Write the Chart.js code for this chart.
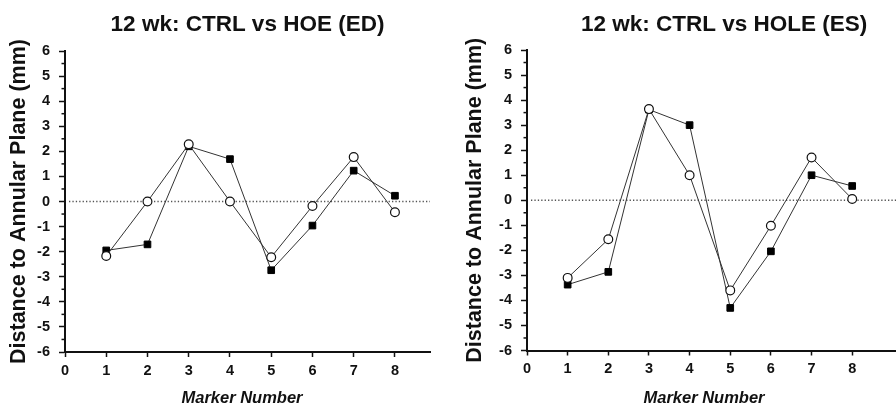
<!DOCTYPE html>
<html>
<head>
<meta charset="utf-8">
<script src="https://cdn.jsdelivr.net/npm/chart.js@4.4.1/dist/chart.umd.min.js"></script>
<style>
  html, body { margin: 0; padding: 0; background: #fff; overflow: hidden; }
  #wrap { position: relative; width: 896px; height: 407px; overflow: hidden; }
  canvas { position: absolute; top: 0; }
  #ed { left: 0; }
  #es { left: 448px; }
</style>
</head>
<body>
<div id="wrap">
  <canvas id="ed" width="448" height="407"></canvas>
  <canvas id="es" width="479" height="407"></canvas>
</div>
<script>
// values
const markers  = [1, 2, 3, 4, 5, 6, 7, 8];
const edOpen   = [-2.17, 0, 2.28, 0, -2.22, -0.18, 1.77, -0.43];
const edFilled = [-1.95, -1.71, 2.2, 1.69, -2.74, -0.96, 1.23, 0.23];
const esOpen   = [-3.1, -1.56, 3.64, 1.0, -3.6, -1.02, 1.71, 0.05];
const esFilled = [-3.37, -2.86, 3.62, 3.0, -4.3, -2.04, 1.0, 0.57];
const xTicks = [0, 1, 2, 3, 4, 5, 6, 7, 8];
const yTicks = [-6, -5, -4, -3, -2, -1, 0, 1, 2, 3, 4, 5, 6];

const FONT = '"Liberation Sans", Arial, Helvetica, sans-serif';
Chart.defaults.font.family = FONT;
Chart.defaults.color = '#111';

const pts = vals => markers.map((m, i) => ({ x: m, y: vals[i] }));

// half-step ticks on the y axis + dotted zero line + x caption
const extras = {
  id: 'extras',
  beforeDatasetsDraw(chart) {
    const { ctx, chartArea, scales: { y } } = chart;
    const py = y.getPixelForValue(0);
    ctx.save();
    ctx.strokeStyle = '#555';
    ctx.lineWidth = 1.3;
    ctx.setLineDash([1.3, 2.1]);
    ctx.beginPath();
    ctx.moveTo(chartArea.left + 4, py);
    ctx.lineTo(chartArea.right, py);
    ctx.stroke();
    ctx.restore();
  },
  afterDraw(chart, args, opts) {
    const { ctx, chartArea, scales: { y } } = chart;
    ctx.save();
    ctx.strokeStyle = '#111';
    ctx.lineWidth = 1.5;
    for (let i = 0; i < yTicks.length - 1; i++) {
      const py = y.getPixelForValue((yTicks[i] + yTicks[i + 1]) / 2);
      ctx.beginPath();
      ctx.moveTo(y.right - 3.5, py);
      ctx.lineTo(y.right, py);
      ctx.stroke();
    }
    ctx.font = 'italic bold 16.5px ' + FONT;
    ctx.fillStyle = '#111';
    ctx.textAlign = 'center';
    ctx.textBaseline = 'middle';
    ctx.fillText(opts.caption, chartArea.left + opts.captionOffset, opts.captionY);
    ctx.restore();
  }
};

function makeChart(id, title, open, filled, cfg) {
  return new Chart(document.getElementById(id), {
    type: 'line',
    data: {
      datasets: [
        {
          data: pts(open),
          borderColor: '#333',
          borderWidth: 1,
          pointStyle: 'circle',
          pointRadius: 4.4,
          pointBackgroundColor: '#fff',
          pointBorderColor: '#111',
          pointBorderWidth: 1.2
        },
        {
          data: pts(filled),
          borderColor: '#333',
          borderWidth: 1,
          pointStyle: 'rect',
          pointRadius: 4.7,
          pointBackgroundColor: '#000',
          pointBorderColor: '#000',
          pointBorderWidth: 1
        }
      ]
    },
    options: {
      responsive: false,
      animation: false,
      devicePixelRatio: 1,
      layout: { padding: { left: 0, right: cfg.padRight, top: 0, bottom: 0 } },
      plugins: {
        legend: { display: false },
        tooltip: { enabled: false },
        title: {
          display: true,
          text: title,
          fullSize: false,
          color: '#111',
          font: { size: 22.5, weight: 'bold' },
          padding: { top: 11.5, bottom: cfg.titleBottom }
        },
        extras: { caption: 'Marker Number', captionOffset: 177, captionY: 398 }
      },
      scales: {
        x: {
          type: 'linear',
          min: 0,
          max: cfg.xMax,
          afterBuildTicks: s => { s.ticks = xTicks.map(v => ({ value: v })); },
          afterFit: s => { s.height = cfg.xHeight; },
          grid: { drawOnChartArea: false, drawTicks: true, tickLength: 5, tickColor: '#111', tickWidth: 1.5 },
          border: { display: true, color: '#111', width: 2 },
          ticks: { font: { size: 14.5, weight: 'bold' }, color: '#111', padding: 5, maxRotation: 0 }
        },
        y: {
          type: 'linear',
          min: -6,
          max: 6,
          afterBuildTicks: s => { s.ticks = yTicks.map(v => ({ value: v })); },
          afterFit: s => { s.width = cfg.yWidth; },
          grid: { drawOnChartArea: false, drawTicks: true, tickLength: 6, tickColor: '#111', tickWidth: 1.5 },
          border: { display: true, color: '#111', width: 2 },
          ticks: { font: { size: 14.5, weight: 'bold' }, color: '#111', padding: 9 },
          title: {
            display: true,
            text: 'Distance to Annular Plane (mm)',
            color: '#111',
            font: { size: 21.5, weight: 'bold' },
            padding: { top: cfg.yTitlePad, bottom: 0 }
          }
        }
      }
    },
    plugins: [extras]
  });
}

makeChart('ed', '12 wk: CTRL vs HOE (ED)', edOpen, edFilled,
  { padRight: 18, xMax: 8.85, xHeight: 55, yWidth: 65, yTitlePad: 6.1, titleBottom: 12.5 });
makeChart('es', '12 wk: CTRL vs HOLE (ES)', esOpen, esFilled,
  { padRight: 0, xMax: 9.7, xHeight: 56.5, yWidth: 79, yTitlePad: 14.1, titleBottom: 11.5 });
</script>
</body>
</html>
